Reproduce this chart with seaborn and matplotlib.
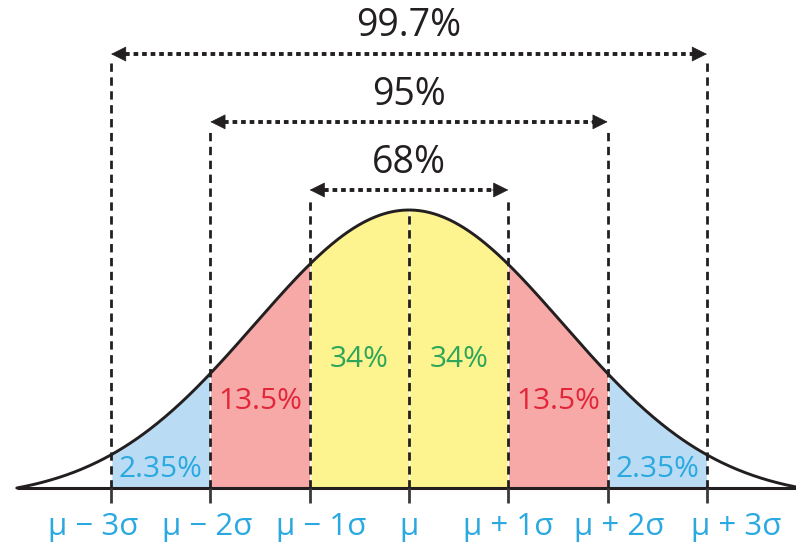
import numpy as np
import pandas as pd
import seaborn as sns
import matplotlib
matplotlib.use("Agg")
import matplotlib.pyplot as plt

# ---- chart content -------------------------------------------------------
sigma_steps = [-3, -2, -1, 0, 1, 2, 3]
tick_labels = ["μ − 3σ", "μ − 2σ", "μ − 1σ", "μ", "μ + 1σ", "μ + 2σ", "μ + 3σ"]

band_edges = [(-3, -2), (-2, -1), (-1, 0), (0, 1), (1, 2), (2, 3)]
band_labels = ["2.35%", "13.5%", "34%", "34%", "13.5%", "2.35%"]
band_fill = ["#b9dcf4", "#f6a9a6", "#fdf38f", "#fdf38f", "#f6a9a6", "#b9dcf4"]
band_text = ["#2aa8e0", "#e3253a", "#2ea65a", "#2ea65a", "#e3253a", "#2aa8e0"]

coverage_k = [1, 2, 3]
coverage_labels = ["68%", "95%", "99.7%"]

# ---- styling / layout ----------------------------------------------------
sns.set_theme(style="white")
plt.rcParams["font.family"] = ["Open Sans", "DejaVu Sans"]

INK = "#231f20"
TICK_BLUE = "#2aa8e0"
label_height = [0.066, 0.31, 0.464, 0.464, 0.31, 0.066]
label_nudge = [-0.18, -0.03, 0.12, 0.0, 0.0, 0.12, 0.29]
arrow_level = {1: 1.072, 2: 1.317, 3: 1.561}
text_level = {1: 1.169, 2: 1.414, 3: 1.662}

# bell curve drawn in sigma units, peak scaled to 1
spread = 1.55
x = np.linspace(-3.95, 3.90, 600)
g = np.exp(-x ** 2 / (2 * spread ** 2))
g0 = np.exp(-3.95 ** 2 / (2 * spread ** 2))
curve = pd.DataFrame({"x": x, "y": (g - g0) / (1 - g0)})

fig = plt.figure(figsize=(7.96, 5.48), dpi=100)
ax = fig.add_axes([0, 0, 1, 1])
ax.set_xlim(-409 / 99.3, (796 - 409) / 99.3)
ax.set_ylim(-60 / 278, 488 / 278)
ax.axis("off")

# shaded bands under the curve
for (a, b), fc in zip(band_edges, band_fill):
    m = (curve["x"] >= a) & (curve["x"] <= b)
    ax.fill_between(curve["x"][m], 0, curve["y"][m], color=fc, lw=0, zorder=1)

# baseline and curve
ax.plot([-3.95, 3.90], [0, 0], color=INK, lw=2.2, solid_capstyle="butt", zorder=4)
sns.lineplot(data=curve, x="x", y="y", color=INK, lw=2.1, ax=ax, zorder=4)

# tick marks below the baseline
for s in sigma_steps:
    ax.plot([s, s], [0, -0.055], color="#3a3a3a", lw=2.0, solid_capstyle="butt", zorder=4)

# dashed verticals
peak = curve["y"].max()
ax.plot([0, 0], [0, peak], color=INK, lw=2.0, ls=(0, (3, 2.0)), zorder=3)
for k in coverage_k:
    for s in (-k, k):
        ax.plot([s, s], [0, arrow_level[k] - 0.03], color=INK, lw=2.0,
                ls=(0, (3, 2.0)), zorder=3)

# dotted double arrows with coverage labels
head = 0.14
for k, lab in zip(coverage_k, coverage_labels):
    yl = arrow_level[k]
    ax.plot([-k + head, k - head], [yl, yl], color=INK, lw=2.8,
            ls=(0, (1.2, 1.0)), dash_capstyle="butt", zorder=5)
    for tip, tail in ((-k, -k + head * 1.2), (k, k - head * 1.2)):
        ax.annotate("", xy=(tip, yl), xytext=(tail, yl),
                    arrowprops=dict(arrowstyle="-|>", color=INK, lw=0.5,
                                    mutation_scale=25, shrinkA=0, shrinkB=0),
                    zorder=5)
    ax.text(0, text_level[k], lab, ha="center", va="center",
            fontsize=27, color=INK, zorder=6)

# band percentages
for (a, b), lab, col, h in zip(band_edges, band_labels, band_text, label_height):
    ax.text((a + b) / 2, h, lab, ha="center", va="center", fontsize=21.5,
            color=col, zorder=6)

# sigma tick labels
for s, lab, dx in zip(sigma_steps, tick_labels, label_nudge):
    ax.text(s + dx, -0.14, lab, ha="center", va="center", fontsize=22.5,
            color=TICK_BLUE, zorder=6)

fig.savefig("out.png", dpi=100, facecolor="white")
